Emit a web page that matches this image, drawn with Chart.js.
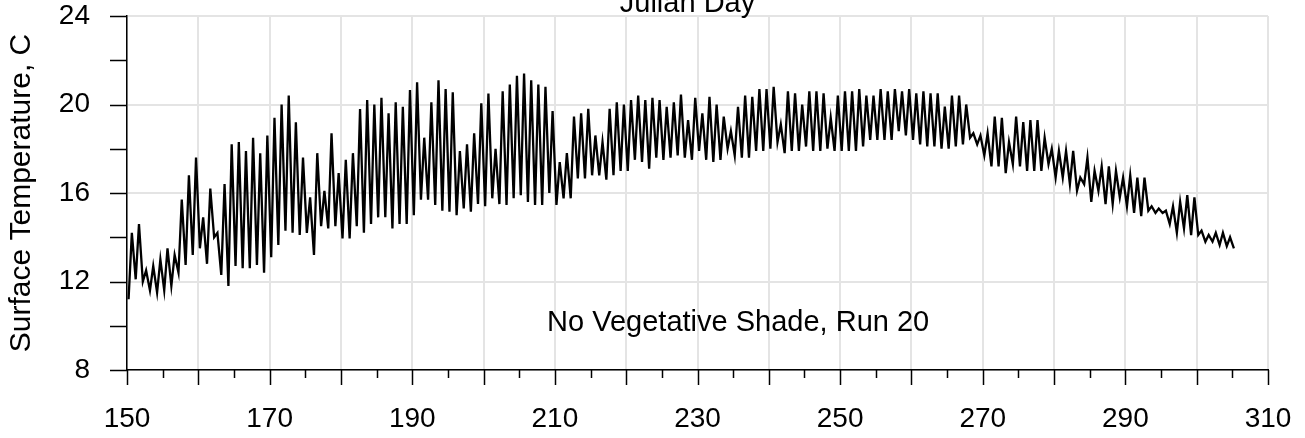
<!DOCTYPE html>
<html>
<head>
<meta charset="utf-8">
<script src="https://cdn.jsdelivr.net/npm/chart.js@4.4.1/dist/chart.umd.min.js"></script>
<style>
  html, body { margin: 0; padding: 0; background: #fff; }
  #wrap { width: 1305px; height: 438px; position: relative; }
</style>
</head>
<body>
<div id="wrap"><canvas id="tempChart"></canvas></div>
<script>
// daily extremes, day 150 onward
const firstDay = 150;
const dailyMin = [
  11.2, 12.1, 12.0, 11.6, 11.5, 11.6, 11.8, 12.4, 12.75, 13.2,
  13.5, 12.8, 14.0, 12.3, 11.8, 12.7, 12.6, 12.6, 12.75, 12.4,
  13.1, 13.65, 14.3, 14.2, 14.1, 14.2, 13.2, 14.5, 14.4, 14.5,
  13.95, 13.95, 14.5, 14.2, 14.6, 14.9, 14.9, 14.4, 14.6, 14.6,
  15.0, 15.7, 15.7, 15.46, 15.2, 15.15, 15.0, 15.3, 15.15, 15.5,
  15.4, 15.76, 15.5, 15.46, 15.76, 15.9, 15.6, 15.46, 15.46, 16.0,
  15.46, 15.76, 15.76, 16.66, 16.66, 16.8, 16.8, 16.6, 16.8, 17.0,
  17.0, 17.5, 17.4, 17.1, 17.6, 17.5, 17.6, 17.7, 17.6, 17.5,
  17.9, 17.5, 17.4, 17.5, 18.0, 17.7, 17.6, 17.6, 17.9, 17.9,
  18.0, 18.3, 17.8, 17.9, 17.9, 18.1, 17.9, 17.9, 18.0, 17.9,
  17.9, 17.9, 17.9, 18.1, 18.4, 18.4, 18.4, 18.4, 18.8, 18.6,
  18.4, 18.2, 18.1, 18.1, 18.0, 18.0, 18.1, 18.2, 18.5, 18.2,
  17.7, 17.2, 17.2, 16.9, 17.3, 17.2, 17.0, 17.0, 17.0, 17.3,
  16.7, 16.7, 16.4, 16.1, 16.4, 15.6, 16.1, 15.5, 15.5, 15.8,
  15.4, 15.1, 14.95, 15.2, 15.1, 15.1, 14.6, 14.2, 14.4, 14.1,
  14.1, 13.8, 13.8, 13.65, 13.6, 13.5
];
const dailyMax = [
  14.2, 14.6, 12.5, 12.7, 13.0, 13.5, 13.2, 15.7, 16.8, 17.6,
  14.9, 16.2, 14.2, 16.4, 18.2, 18.3, 17.9, 18.5, 17.8, 18.6,
  19.4, 20.0, 20.4, 19.2, 17.6, 15.8, 17.8, 16.1, 18.7, 16.9,
  17.5, 17.8, 19.8, 20.2, 20.0, 20.3, 19.6, 20.1, 19.9, 20.65,
  21.0, 18.5, 20.1, 21.1, 20.7, 20.55, 17.9, 18.2, 18.7, 20.05,
  20.5, 18.0, 20.6, 20.9, 21.3, 21.4, 21.1, 20.9, 20.8, 19.7,
  17.4, 17.8, 19.45, 19.6, 19.8, 18.6, 18.3, 19.8, 20.1, 20.0,
  20.2, 20.4, 20.2, 20.3, 20.2, 19.9, 20.1, 20.45, 19.3, 20.3,
  19.6, 20.35, 20.0, 19.45, 18.8, 19.9, 20.4, 20.35, 20.7, 20.7,
  20.8, 19.1, 20.6, 20.5, 20.0, 20.6, 20.6, 20.5, 19.4, 20.4,
  20.6, 20.6, 20.7, 20.4, 20.4, 20.7, 20.6, 20.7, 20.6, 20.7,
  20.5, 20.6, 20.5, 20.5, 19.9, 20.4, 20.4, 20.0, 18.7, 18.6,
  18.7, 19.45, 19.4, 18.3, 19.45, 19.2, 19.3, 19.3, 18.5, 18.0,
  17.9, 17.9, 17.9, 16.7, 17.6, 17.0, 17.2, 17.2, 17.0, 16.7,
  16.8, 16.7, 16.7, 15.4, 15.3, 15.2, 15.4, 15.6, 15.9, 15.8,
  14.3, 14.1, 14.2, 14.2, 14.0
];
const xLabels = [150, 170, 190, 210, 230, 250, 270, 290, 310];
const yLabels = [8, 12, 16, 20, 24];

const FONT = '"Liberation Sans", Arial, Helvetica, sans-serif';

// build the trace: early-morning low then afternoon high for each day
const points = [];
dailyMin.forEach((lo, i) => {
  const d = firstDay + i;
  points.push({ x: d + 0.22, y: lo });
  if (dailyMax[i] !== undefined) points.push({ x: d + 0.68, y: dailyMax[i] });
});

// tick marks of two lengths + the two free texts
const extras = {
  id: 'extras',
  afterDraw(chart) {
    const ctx = chart.ctx;
    const xs = chart.scales.x, ys = chart.scales.y;
    const area = chart.chartArea;
    ctx.save();
    ctx.strokeStyle = '#000';
    ctx.lineWidth = 1.5;
    ctx.beginPath();
    for (let v = xs.min; v <= xs.max; v += 5) {
      const px = Math.round(xs.getPixelForValue(v)) + 0.5;
      const len = v % 10 === 0 ? 15 : 8;
      ctx.moveTo(px, area.bottom);
      ctx.lineTo(px, area.bottom + len);
    }
    for (let v = ys.min; v <= ys.max; v += 2) {
      const py = Math.round(ys.getPixelForValue(v)) + 0.5;
      ctx.moveTo(area.left - 17, py);
      ctx.lineTo(area.left, py);
    }
    ctx.stroke();

    ctx.fillStyle = '#000';
    ctx.font = '29px ' + FONT;
    ctx.textAlign = 'center';
    ctx.textBaseline = 'alphabetic';
    ctx.fillText('Julian Day', (area.left + area.right) / 2 - 10, 12);
    ctx.fillText('No Vegetative Shade, Run 20', xs.getPixelForValue(235.7), ys.getPixelForValue(9.75));
    ctx.restore();
  }
};

new Chart(document.getElementById('tempChart'), {
  type: 'line',
  data: {
    datasets: [{
      data: points,
      borderColor: '#000',
      borderWidth: 2.3,
      pointRadius: 0,
      tension: 0,
      fill: false
    }]
  },
  options: {
    responsive: true,
    maintainAspectRatio: false,
    animation: false,
    layout: { padding: { top: 16, right: 37, left: 0, bottom: 0 } },
    plugins: {
      legend: { display: false },
      tooltip: { enabled: false }
    },
    scales: {
      x: {
        type: 'linear',
        min: 150,
        max: 310,
        afterFit: (s) => { s.height = 68; s.paddingLeft = 0; s.paddingRight = 0; },
        border: { display: true, color: '#000', width: 1.5 },
        grid: {
          drawTicks: false,
          lineWidth: 2,
          color: (c) => (c.tick && c.tick.value % 10 === 0 ? '#e4e4e4' : 'rgba(0,0,0,0)')
        },
        ticks: {
          stepSize: 5,
          autoSkip: false,
          maxRotation: 0,
          padding: 32,
          color: '#000',
          font: { family: FONT, size: 28 },
          callback: (v) => (xLabels.includes(v) ? String(v) : '')
        }
      },
      y: {
        min: 8,
        max: 24,
        afterFit: (s) => { s.width = 127; s.paddingTop = 0; s.paddingBottom = 0; },
        border: { display: true, color: '#000', width: 1.5 },
        grid: {
          drawTicks: false,
          lineWidth: 2,
          color: (c) => (c.tick && c.tick.value % 4 === 0 ? '#e4e4e4' : 'rgba(0,0,0,0)')
        },
        ticks: {
          stepSize: 2,
          autoSkip: false,
          padding: 37,
          color: '#000',
          font: { family: FONT, size: 28 },
          callback: (v) => (yLabels.includes(v) ? String(v) : '')
        },
        title: {
          display: true,
          text: 'Surface Temperature, C',
          color: '#000',
          font: { family: FONT, size: 30 },
          padding: { top: 4, bottom: 0 }
        }
      }
    }
  },
  plugins: [extras]
});
</script>
</body>
</html>
